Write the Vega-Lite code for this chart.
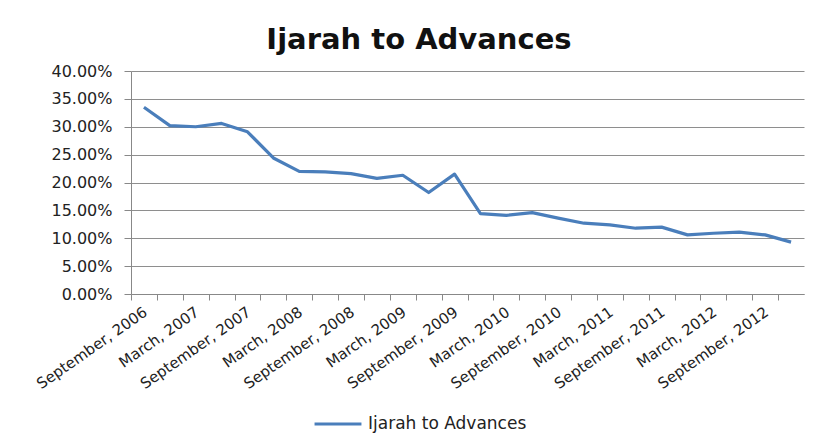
{
  "$schema": "https://vega.github.io/schema/vega-lite/v6.json",
  "width": 673,
  "height": 223,
  "autosize": {"type": "none"},
  "padding": {"left": 131, "top": 71, "right": 15, "bottom": 147},
  "background": "white",
  "title": {
    "text": "Ijarah to Advances",
    "font": "DejaVu Sans",
    "fontSize": 29,
    "fontWeight": "bold",
    "color": "#111111",
    "anchor": "middle",
    "frame": "bounds",
    "offset": 8
  },
  "data": {
    "values": [
      {"quarter": "September, 2006", "ratio": 0.335, "series": "Ijarah to Advances"},
      {"quarter": "December, 2006", "ratio": 0.302, "series": "Ijarah to Advances"},
      {"quarter": "March, 2007", "ratio": 0.300, "series": "Ijarah to Advances"},
      {"quarter": "June, 2007", "ratio": 0.306, "series": "Ijarah to Advances"},
      {"quarter": "September, 2007", "ratio": 0.291, "series": "Ijarah to Advances"},
      {"quarter": "December, 2007", "ratio": 0.244, "series": "Ijarah to Advances"},
      {"quarter": "March, 2008", "ratio": 0.220, "series": "Ijarah to Advances"},
      {"quarter": "June, 2008", "ratio": 0.219, "series": "Ijarah to Advances"},
      {"quarter": "September, 2008", "ratio": 0.216, "series": "Ijarah to Advances"},
      {"quarter": "December, 2008", "ratio": 0.2075, "series": "Ijarah to Advances"},
      {"quarter": "March, 2009", "ratio": 0.213, "series": "Ijarah to Advances"},
      {"quarter": "June, 2009", "ratio": 0.182, "series": "Ijarah to Advances"},
      {"quarter": "September, 2009", "ratio": 0.215, "series": "Ijarah to Advances"},
      {"quarter": "December, 2009", "ratio": 0.144, "series": "Ijarah to Advances"},
      {"quarter": "March, 2010", "ratio": 0.141, "series": "Ijarah to Advances"},
      {"quarter": "June, 2010", "ratio": 0.146, "series": "Ijarah to Advances"},
      {"quarter": "September, 2010", "ratio": 0.136, "series": "Ijarah to Advances"},
      {"quarter": "December, 2010", "ratio": 0.127, "series": "Ijarah to Advances"},
      {"quarter": "March, 2011", "ratio": 0.124, "series": "Ijarah to Advances"},
      {"quarter": "June, 2011", "ratio": 0.118, "series": "Ijarah to Advances"},
      {"quarter": "September, 2011", "ratio": 0.120, "series": "Ijarah to Advances"},
      {"quarter": "December, 2011", "ratio": 0.106, "series": "Ijarah to Advances"},
      {"quarter": "March, 2012", "ratio": 0.109, "series": "Ijarah to Advances"},
      {"quarter": "June, 2012", "ratio": 0.111, "series": "Ijarah to Advances"},
      {"quarter": "September, 2012", "ratio": 0.106, "series": "Ijarah to Advances"},
      {"quarter": "December, 2012", "ratio": 0.093, "series": "Ijarah to Advances"}
    ]
  },
  "mark": {"type": "line", "strokeWidth": 3.2, "strokeJoin": "round"},
  "encoding": {
    "x": {
      "field": "quarter",
      "type": "ordinal",
      "sort": null,
      "scale": {"type": "point", "padding": 0.5},
      "axis": {
        "title": null,
        "labelExpr": "indexof(datum.value, 'September') == 0 || indexof(datum.value, 'March') == 0 ? datum.value : ''",
        "labelAngle": -35,
        "labelAlign": "right",
        "labelBaseline": "middle",
        "labelPadding": 10,
        "labelOffset": 14,
        "labelFont": "DejaVu Sans",
        "labelFontSize": 15,
        "labelColor": "#222222",
        "labelOverlap": false,
        "tickSize": 6,
        "tickOffset": -12.94,
        "tickColor": "#888888",
        "domainColor": "#888888",
        "grid": false
      }
    },
    "y": {
      "field": "ratio",
      "type": "quantitative",
      "scale": {"domain": [0, 0.4], "nice": false},
      "axis": {
        "title": null,
        "format": ".2%",
        "values": [0, 0.05, 0.1, 0.15, 0.2, 0.25, 0.3, 0.35, 0.4],
        "labelFont": "DejaVu Sans",
        "labelFontSize": 16,
        "labelColor": "#222222",
        "labelPadding": 12,
        "tickSize": 7,
        "tickColor": "#888888",
        "domainColor": "#888888",
        "gridColor": "#8e8e8e",
        "gridWidth": 1
      }
    },
    "color": {
      "field": "series",
      "type": "nominal",
      "scale": {"range": ["#4a7ebb"]},
      "legend": {
        "title": null,
        "orient": "none",
        "legendX": 182,
        "legendY": 328,
        "padding": 0,
        "symbolType": "stroke",
        "symbolSize": 2200,
        "symbolStrokeWidth": 3,
        "labelOffset": 5,
        "labelFont": "DejaVu Sans",
        "labelFontSize": 17,
        "labelColor": "#222222"
      }
    }
  },
  "config": {
    "view": {"stroke": null}
  }
}
